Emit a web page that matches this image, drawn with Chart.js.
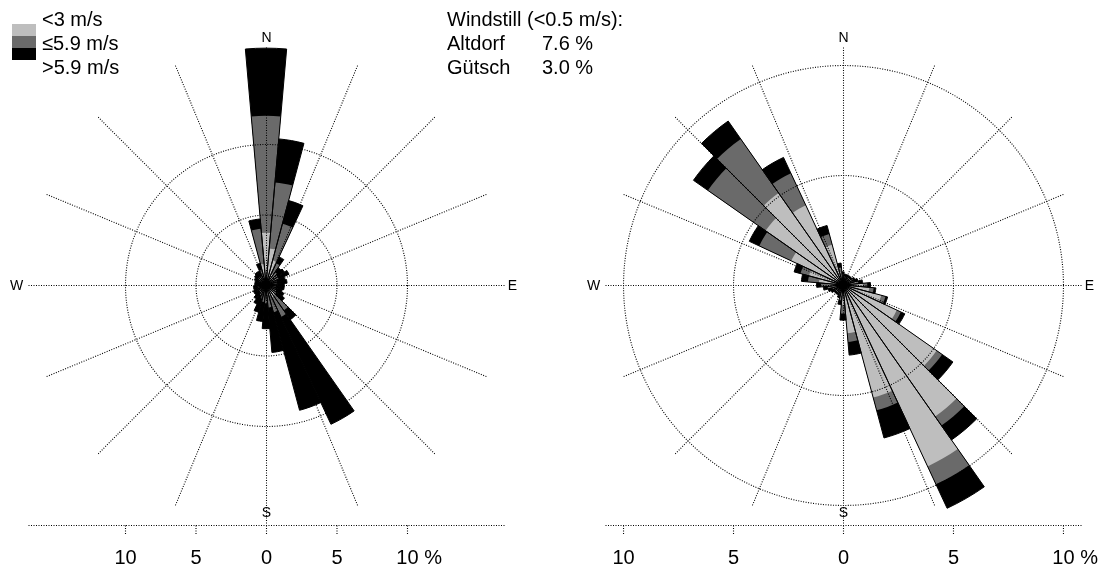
<!DOCTYPE html>
<html>
<head>
<meta charset="utf-8">
<script src="https://cdn.jsdelivr.net/npm/chart.js@4.4.1/dist/chart.umd.min.js"></script>
<style>
  body { margin: 0; background: #fff; font-family: "Liberation Sans", Arial, sans-serif; }
  #wrap { position: relative; width: 1102px; height: 567px; overflow: hidden; }
  canvas { position: absolute; top: 0; }
  .txt { position: absolute; font-size: 20px; line-height: 24px; color: #000; white-space: pre; }
  .sw { position: absolute; left: 12px; width: 24px; height: 12px; }
</style>
</head>
<body>
<div id="wrap">
  <canvas id="left" width="551" height="567" style="left:0"></canvas>
  <canvas id="right" width="551" height="567" style="left:551px"></canvas>
  <div id="legend"></div>
  <div id="calm"></div>
</div>
<script>
// wind direction sectors (degrees), 10 deg each
const directions = [0, 10, 20, 30, 40, 50, 60, 70, 80, 90, 100, 110, 120, 130, 140, 150, 160, 170,
                    180, 190, 200, 210, 220, 230, 240, 250, 260, 270, 280, 290, 300, 310, 320, 330, 340, 350];
const classLabels = ["<3 m/s", "≤5.9 m/s", ">5.9 m/s"];
const classColors = ["#bebebe", "#6a6a6a", "#000000"];

// left rose, frequency in % per class
const leftLow  = [3.7, 2.6, 1.8, 0.9, 0.6, 0.5, 0.5, 0.4, 0.4, 0.4, 0.4, 0.4, 0.4, 0.5, 0.9, 1.0, 0.8, 0.7,
                  0.6, 0.6, 0.5, 0.4, 0.4, 0.3, 0.3, 0.3, 0.3, 0.3, 0.3, 0.3, 0.3, 0.4, 0.4, 0.4, 0.6, 1.5];
const leftMid  = [8.3, 4.7, 2.7, 0.8, 0.5, 0.5, 0.5, 0.4, 0.4, 0.3, 0.3, 0.3, 0.4, 0.4, 1.3, 1.5, 1.2, 0.9,
                  0.7, 0.6, 0.5, 0.4, 0.3, 0.3, 0.3, 0.3, 0.3, 0.2, 0.2, 0.2, 0.3, 0.3, 0.3, 0.3, 0.5, 2.5];
const leftHigh = [4.8, 3.1, 1.7, 0.5, 0.4, 0.6, 0.8, 0.6, 0.7, 0.6, 0.6, 0.5, 0.6, 0.7, 0.8, 8.4, 7.2, 3.2,
                  1.8, 1.4, 1.0, 0.7, 0.5, 0.4, 0.4, 0.3, 0.3, 0.3, 0.3, 0.3, 0.3, 0.3, 0.4, 0.4, 0.5, 0.7];

// right rose
const rightLow  = [0.4, 0.3, 0.3, 0.3, 0.3, 0.3, 0.4, 0.4, 0.6, 0.9, 1.2, 1.8, 2.7, 5.2, 7.3, 9.1, 5.3, 2.2,
                   0.9, 0.5, 0.4, 0.3, 0.3, 0.3, 0.3, 0.4, 0.5, 0.7, 1.1, 1.6, 2.6, 4.3, 5.1, 4.0, 1.9, 0.6];
const rightMid  = [0.1, 0.1, 0.1, 0.1, 0.1, 0.1, 0.1, 0.1, 0.1, 0.2, 0.2, 0.2, 0.2, 0.3, 0.5, 0.9, 0.6, 0.4,
                   0.4, 0.2, 0.1, 0.1, 0.1, 0.1, 0.1, 0.1, 0.2, 0.3, 0.5, 0.4, 1.6, 3.2, 3.0, 1.6, 0.5, 0.2];
const rightHigh = [0.1, 0.1, 0.1, 0.1, 0.1, 0.1, 0.1, 0.2, 0.2, 0.15, 0.1, 0.1, 0.2, 0.6, 0.8, 1.2, 1.3, 0.6,
                   0.3, 0.2, 0.1, 0.1, 0.1, 0.1, 0.2, 0.2, 0.2, 0.2, 0.3, 0.3, 0.5, 0.8, 1.0, 0.8, 0.4, 0.2];

const ringValues = [5, 10];
const axisTicks = [-10, -5, 0, 5, 10];
const axisLabels = ["10", "5", "0", "5", "10 %"];
const compass = ["N", "E", "S", "W"];

const calmTitle = "Windstill (<0.5 m/s):";
const calmStations = ["Altdorf", "Gütsch"];
const calmValues = [7.6, 3.0];

// legend + calm note as html text
let legend = document.getElementById("legend");
classLabels.forEach((lab, i) => {
    let t = document.createElement("div");
    t.className = "txt";
    t.style.left = "42px";
    t.style.top = (7 + i * 24) + "px";
    t.textContent = lab;
    legend.appendChild(t);
    let s = document.createElement("div");
    s.className = "sw";
    s.style.top = (24 + i * 12) + "px";
    s.style.background = classColors[i];
    legend.appendChild(s);
});

let calm = document.getElementById("calm");
let head = document.createElement("div");
head.className = "txt";
head.style.left = "447px";
head.style.top = "7px";
head.textContent = calmTitle;
calm.appendChild(head);
calmStations.forEach((st, i) => {
    let a = document.createElement("div");
    a.className = "txt";
    a.style.left = "447px";
    a.style.top = (31 + i * 24) + "px";
    a.textContent = st;
    calm.appendChild(a);
    let b = document.createElement("div");
    b.className = "txt";
    b.style.left = "542px";
    b.style.top = (31 + i * 24) + "px";
    b.textContent = calmValues[i].toFixed(1) + " %";
    calm.appendChild(b);
});

// dotted rings, spokes, compass letters and the bottom % axis
const roseFrame = {
    id: "roseFrame",
    afterDatasetsDraw(chart) {
        const r = chart.scales.r;
        const ctx = chart.ctx;
        const cx = r.xCenter + 0.5, cy = r.yCenter + 0.5, R = r.drawingArea;
        ctx.save();
        ctx.strokeStyle = "#000";
        ctx.lineWidth = 1.1;
        ctx.setLineDash([1, 1.5]);

        ringValues.forEach(v => {
            ctx.beginPath();
            ctx.arc(cx, cy, r.getDistanceFromCenterForValue(v), 0, 2 * Math.PI);
            ctx.stroke();
        });

        for (let i = 0; i < 8; i++) {
            let a = i * Math.PI / 8;
            ctx.beginPath();
            ctx.moveTo(cx + R * Math.sin(a), cy - R * Math.cos(a));
            ctx.lineTo(cx - R * Math.sin(a), cy + R * Math.cos(a));
            ctx.stroke();
        }

        // bottom axis
        let ay = cy + R + 2;
        ctx.beginPath();
        ctx.moveTo(cx - R, ay);
        ctx.lineTo(cx + R, ay);
        ctx.stroke();
        ctx.fillStyle = "#000";
        ctx.font = '20px "Liberation Sans", Arial, sans-serif';
        ctx.textBaseline = "middle";
        ctx.textAlign = "left";
        axisTicks.forEach((v, i) => {
            let x = cx + Math.sign(v) * r.getDistanceFromCenterForValue(Math.abs(v));
            ctx.beginPath();
            ctx.moveTo(x, ay);
            ctx.lineTo(x, ay + 10);
            ctx.stroke();
            let num = axisLabels[i].split(" ")[0];
            let w = ctx.measureText(num).width;
            ctx.fillText(axisLabels[i], x - w / 2, ay + 33);
        });

        ctx.setLineDash([]);
        ctx.font = '14px "Liberation Sans", Arial, sans-serif';
        ctx.textAlign = "center";
        ctx.fillText(compass[0], cx, cy - R - 9);
        ctx.fillText(compass[1], cx + R + 8, cy + 1);
        ctx.fillText(compass[2], cx, cy + R - 10);
        ctx.fillText(compass[3], cx - R - 12, cy + 1);
        ctx.restore();
    }
};

function makeRose(id, low, mid, high, rMax, pad) {
    let cumMid = low.map((v, i) => +(v + mid[i]).toFixed(2));
    let total = cumMid.map((v, i) => +(v + high[i]).toFixed(2));
    return new Chart(document.getElementById(id), {
        type: "polarArea",
        data: {
            labels: directions.map(d => d + "°"),
            datasets: [
                { data: total, backgroundColor: "rgba(0,0,0,0)", borderColor: "#000", borderWidth: 1, clip: false },
                { data: low, backgroundColor: classColors[0], borderWidth: 0, clip: false },
                { data: cumMid, backgroundColor: classColors[1], borderWidth: 0, clip: false },
                { data: total, backgroundColor: classColors[2], borderWidth: 0, clip: false }
            ]
        },
        options: {
            responsive: false,
            animation: false,
            devicePixelRatio: 1,
            events: [],
            layout: { padding: pad },
            plugins: { legend: { display: false }, tooltip: { enabled: false } },
            scales: {
                r: {
                    min: 0, max: rMax, startAngle: -5,
                    ticks: { display: false },
                    grid: { display: false },
                    angleLines: { display: false },
                    pointLabels: { display: false }
                }
            }
        },
        plugins: [roseFrame]
    });
}

makeRose("left", leftLow, leftMid, leftHigh, 16.88, { left: 28, right: 47, top: 47, bottom: 44 });
makeRose("right", rightLow, rightMid, rightHigh, 10.82, { left: 54, right: 21, top: 47, bottom: 44 });
</script>
</body>
</html>
